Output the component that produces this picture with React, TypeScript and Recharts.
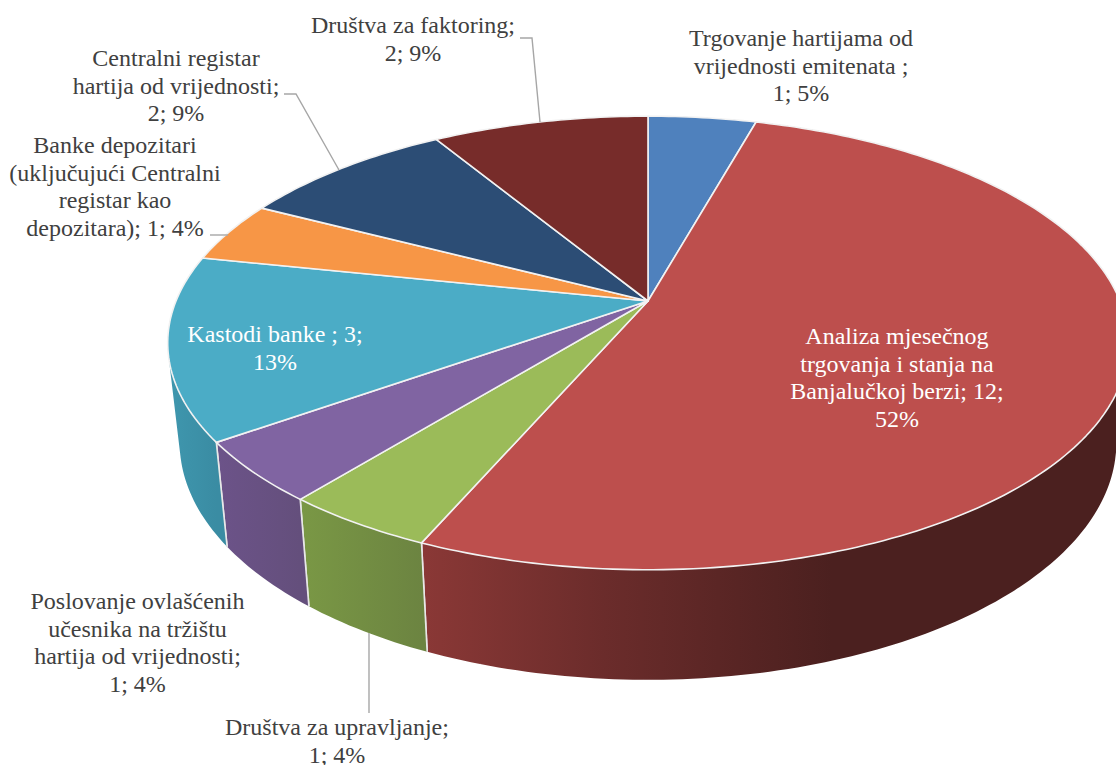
import React from "react";
import { PieChart, Pie } from "recharts";

const categories = [
  "Trgovanje hartijama od vrijednosti emitenata",
  "Analiza mjesečnog trgovanja i stanja na Banjalučkoj berzi",
  "Društva za upravljanje",
  "Poslovanje ovlašćenih učesnika na tržištu hartija od vrijednosti",
  "Kastodi banke",
  "Banke depozitari (uključujući Centralni registar kao depozitara)",
  "Centralni registar hartija od vrijednosti",
  "Društva za faktoring",
];
const values = [1, 12, 1, 1, 3, 1, 2, 2];
const labelLines = [
  ["Trgovanje hartijama od", "vrijednosti emitenata ;", "1; 5%"],
  ["Analiza mjesečnog", "trgovanja i stanja na", "Banjalučkoj berzi; 12;", "52%"],
  ["Društva za upravljanje;", "1; 4%"],
  ["Poslovanje ovlašćenih", "učesnika na tržištu", "hartija od vrijednosti;", "1; 4%"],
  ["Kastodi banke ; 3;", "13%"],
  ["Banke depozitari", "(uključujući Centralni", "registar kao", "depozitara); 1; 4%"],
  ["Centralni registar", "hartija od vrijednosti;", "2; 9%"],
  ["Društva za faktoring;", "2; 9%"],
];

const topColors = ["#4F81BD", "#BD4F4D", "#9BBB59", "#8064A2", "#4BACC6", "#F79646", "#2C4D75", "#772C2A"];
const wallStops = [
  ["#3E648F", "#3E648F"],
  ["#8A3836", "#6B2C2B", "#4B201F", "#4B201F"],
  ["#7A9845", "#6C8441"],
  ["#6C5389", "#644F7C"],
  ["#3F97AE", "#3A8CA3"],
  ["#C77A38", "#C77A38"],
  ["#223C5B", "#223C5B"],
  ["#5C2220", "#5C2220"],
];
// label layout: centre x, first baseline, colour
const labelLayout = [
  { x: 801, y: 46, c: "#404040" },
  { x: 897, y: 344, c: "#FFFFFF" },
  { x: 337, y: 735, c: "#404040" },
  { x: 137.5, y: 609, c: "#404040" },
  { x: 275, y: 342, c: "#FFFFFF" },
  { x: 115, y: 153, c: "#404040" },
  { x: 176, y: 66, c: "#404040" },
  { x: 413, y: 33, c: "#404040" },
];
const leaderLines: (string | null)[] = [
  null,
  null,
  "369,633 369,713",
  null,
  null,
  "210,235 228,235",
  "284,94 296,94 339,170",
  "520,38 532,38 540,122",
];

const CX = 648;
const CY = 301;
const RX = 472;
const Y_RATIO = 219 / 472;
const K = 0.185;
const LINE = 27.6;

type P = { x: number; y: number };

const project = (cx: number, cy: number, r: number, angle: number): P => {
  const t = ((90 - angle) * Math.PI) / 180;
  const u = Math.sin(t);
  const v = -Math.cos(t);
  const w = 1 - K * v;
  return { x: cx + (r * u) / w, y: cy + (r * Y_RATIO * v) / w };
};
const lower = (p: P, cx: number, cy: number): P => ({
  x: cx + 0.975 * (p.x - cx),
  y: cy + 98 + 1.045 * (p.y - cy),
});
const arcPoints = (cx: number, cy: number, r: number, a0: number, a1: number) => {
  const n = Math.max(2, Math.ceil(Math.abs(a1 - a0)));
  const pts: P[] = [];
  for (let i = 0; i <= n; i++) pts.push(project(cx, cy, r, a0 + ((a1 - a0) * i) / n));
  return pts;
};
const toD = (pts: P[]) =>
  pts.map((p, i) => `${i ? "L" : "M"}${p.x.toFixed(2)},${p.y.toFixed(2)}`).join("") + "Z";
const area = (q: P[]) =>
  q.reduce((s, p, i) => {
    const n = q[(i + 1) % q.length];
    return s + p.x * n.y - n.x * p.y;
  }, 0);

const TopSector = (props: any) => {
  const { cx, cy, outerRadius, startAngle, endAngle, fill } = props;
  const pts = [{ x: cx, y: cy }, ...arcPoints(cx, cy, outerRadius, startAngle, endAngle)];
  return <path d={toD(pts)} fill={fill} stroke="#F2F2F2" strokeWidth={1.6} strokeLinejoin="round" />;
};

const WallSector = (props: any) => {
  const { cx, cy, outerRadius, startAngle, endAngle, index } = props;
  const top = arcPoints(cx, cy, outerRadius, startAngle, endAngle);
  const bot = top.map((p) => lower(p, cx, cy));
  const quads = top.slice(0, -1).map((p, i) => {
    const q = [p, top[i + 1], bot[i + 1], bot[i]];
    return toD(area(q) < 0 ? q.reverse() : q);
  });
  const xs = top.map((p) => p.x);
  const front = (p: P) => p.y > cy + 60;
  const a = top[0];
  const b = top[top.length - 1];
  const stops = wallStops[index];
  const id = `wall-${index}`;
  const x1 = index === 1 ? 424 : Math.min(...xs);
  const x2 = index === 1 ? 1116 : Math.max(...xs);
  return (
    <g>
      <defs>
        <linearGradient id={id} gradientUnits="userSpaceOnUse" x1={x1} x2={x2} y1={0} y2={0}>
          {stops.map((s, i) => (
            <stop key={i} offset={index === 1 ? [0, 0.26, 0.59, 1][i] : i / (stops.length - 1)} stopColor={s} />
          ))}
        </linearGradient>
      </defs>
      <path d={quads.join("")} fill={`url(#${id})`} />
      {front(a) && <line x1={a.x} y1={a.y} x2={lower(a, cx, cy).x} y2={lower(a, cx, cy).y} stroke="#E8E8E8" strokeWidth={1.6} />}
      {front(b) && <line x1={b.x} y1={b.y} x2={lower(b, cx, cy).x} y2={lower(b, cx, cy).y} stroke="#E8E8E8" strokeWidth={1.6} />}
    </g>
  );
};

const renderLabel = (props: any) => {
  const i = props.index;
  const l = labelLayout[i];
  return (
    <g key={i}>
      {leaderLines[i] && <polyline points={leaderLines[i] as string} fill="none" stroke="#A6A6A6" strokeWidth={1.4} />}
      <text textAnchor="middle" fontFamily="'Liberation Serif'" fontSize={24} fill={l.c}>
        {labelLines[i].map((t, k) => (
          <tspan key={k} x={l.x} y={l.y + k * LINE}>
            {t}
          </tspan>
        ))}
      </text>
    </g>
  );
};

const data = categories.map((name, i) => ({ name, value: values[i], fill: topColors[i] }));

export default function App() {
  return (
    <div style={{ position: "absolute", left: 0, top: 0, width: 1116, height: 765, overflow: "hidden", background: "#fff" }}>
      <PieChart width={1116} height={765} margin={{ top: 0, right: 0, bottom: 0, left: 0 }}>
        <Pie
          data={data}
          dataKey="value"
          nameKey="name"
          cx={CX}
          cy={CY}
          innerRadius={0}
          outerRadius={RX}
          startAngle={90}
          endAngle={-270}
          isAnimationActive={false}
          stroke="none"
          shape={WallSector}
          label={false}
          labelLine={false}
        />
        <Pie
          data={data}
          dataKey="value"
          nameKey="name"
          cx={CX}
          cy={CY}
          innerRadius={0}
          outerRadius={RX}
          startAngle={90}
          endAngle={-270}
          isAnimationActive={false}
          shape={TopSector}
          label={renderLabel}
          labelLine={false}
        />
      </PieChart>
    </div>
  );
}
